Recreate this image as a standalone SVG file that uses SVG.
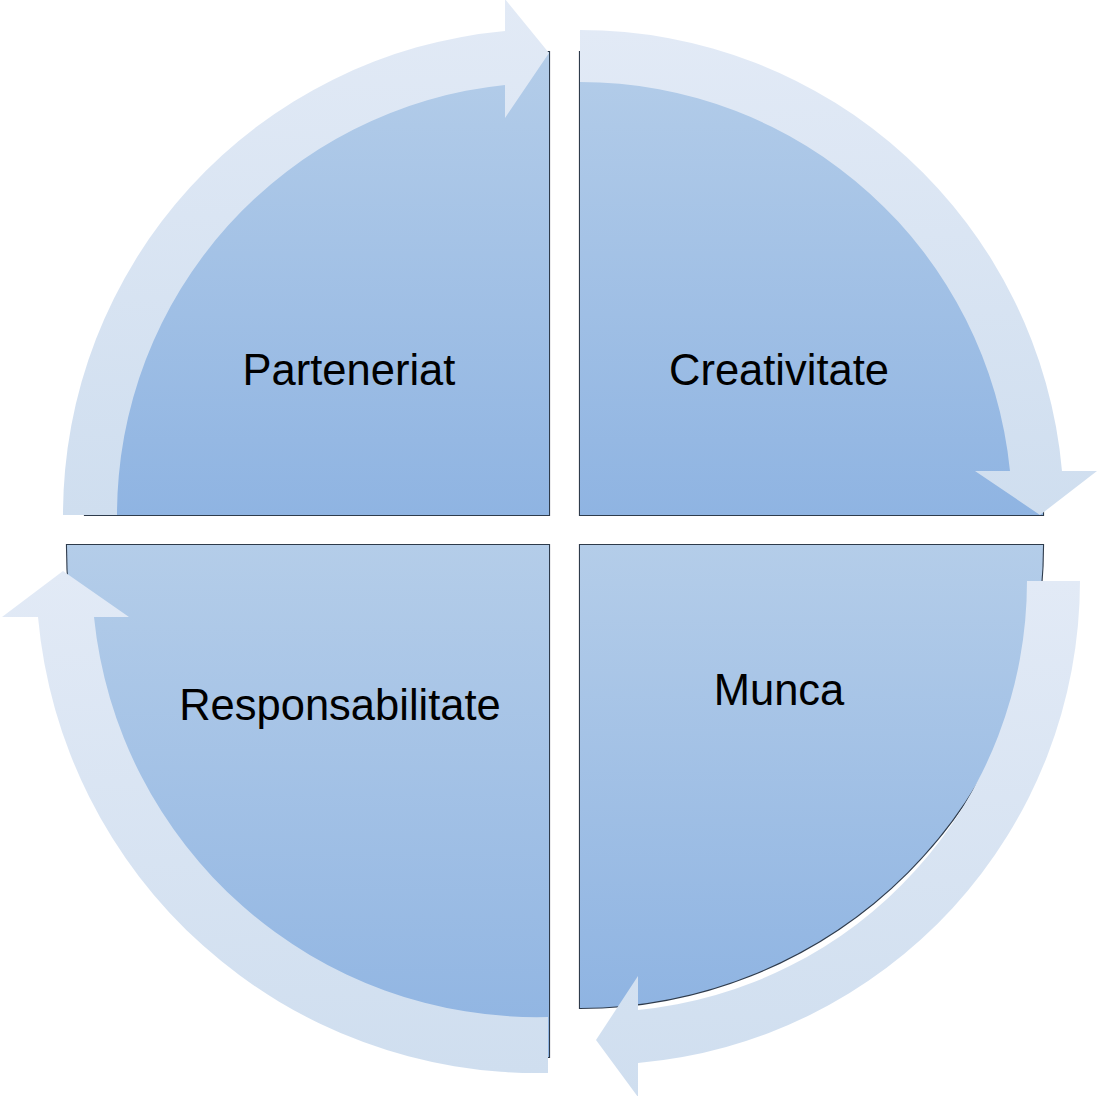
<svg xmlns="http://www.w3.org/2000/svg" width="1102" height="1096" viewBox="0 0 1102 1096">
<defs>
<linearGradient id="pieFill" x1="0" y1="0" x2="0" y2="1">
<stop offset="0" stop-color="#b4cde9"/>
<stop offset="1" stop-color="#8fb4e2"/>
</linearGradient>
<linearGradient id="arrowFill" x1="0" y1="0" x2="0" y2="1">
<stop offset="0" stop-color="#e2eaf6"/>
<stop offset="1" stop-color="#cfdeef"/>
</linearGradient>
<filter id="soft" x="-5%" y="-5%" width="110%" height="110%">
<feGaussianBlur stdDeviation="0.6"/>
</filter>
</defs>
<style>
.shadow{fill:none;stroke:#2f3b4c;stroke-width:2.2;filter:url(#soft)}
.pie{fill:url(#pieFill)}
.arrow{fill:url(#arrowFill)}
.label{font-family:"Liberation Sans",Arial,sans-serif;font-size:43.5px;fill:#000;text-anchor:middle}
</style>
<rect width="1102" height="1096" fill="#ffffff"/>
<g id="node-parteneriat">
<path class="shadow" d="M549,515 L85,515 A464,463 0 0 1 549,52 Z"/>
<path class="pie" d="M549,515 L85,515 A464,463 0 0 1 549,52 Z"/>
<text class="label" x="349" y="385">Parteneriat</text>
</g>
<g id="node-creativitate">
<path class="shadow" d="M580,515 L580,52 A463,463 0 0 1 1043,515 Z"/>
<path class="pie" d="M580,515 L580,52 A463,463 0 0 1 1043,515 Z"/>
<text class="label" x="779" y="385">Creativitate</text>
</g>
<g id="node-munca">
<path class="shadow" d="M580,545 L1043,545 A463,463 0 0 1 580,1008 Z"/>
<path class="pie" d="M580,545 L1043,545 A463,463 0 0 1 580,1008 Z"/>
<text class="label" x="779" y="705">Munca</text>
</g>
<g id="node-responsabilitate">
<path class="shadow" d="M549,545 L549,1057 A482,512 0 0 1 67,545 Z"/>
<path class="pie" d="M549,545 L549,1057 A482,512 0 0 1 67,545 Z"/>
<text class="label" x="340" y="720">Responsabilitate</text>
</g>
<g id="connectors">
<path class="arrow" d="M63,515 A486,486 0 0 1 505,31 L505,-1 L549,53 L505,118 L505,85 A432,432 0 0 0 117,515 Z"/>
<path class="arrow" d="M580,30 A484,484 0 0 1 1062,471 L1097,471 L1040,515 L975,471 L1010,471 A432,432 0 0 0 580,82 Z"/>
<path class="arrow" d="M1080,581 A484,484 0 0 1 638,1063 L638,1097 L596,1040 L638,976 L638,1010 A431,431 0 0 0 1027,581 Z"/>
<path class="arrow" d="M548,1073 A501,501 0 0 1 38,617 L2,617 L63,571 L129,617 L94,617 A445,445 0 0 0 548,1017 Z"/>
</g>
</svg>
